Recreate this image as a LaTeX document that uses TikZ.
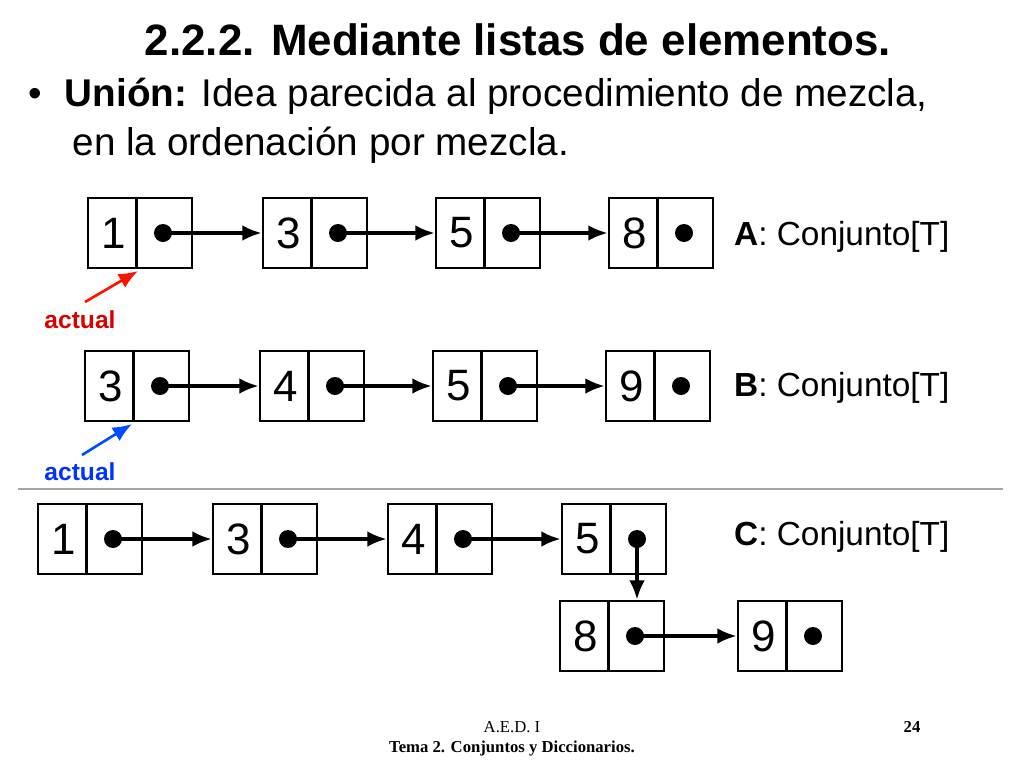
\documentclass[tikz,border=0pt]{standalone}
\usepackage{fontspec}
\setmainfont{Liberation Sans}
\newfontfamily\footfont{Liberation Serif}
\usetikzlibrary{arrows.meta}
\tikzset{
  cellbox/.style={draw,line width=1.6pt,minimum width=104*0.02cm,minimum height=70*0.02cm,inner sep=0pt},
  link/.style={line width=1.8pt,-{Latex[length=11pt,width=9pt]}},
  lbl/.style={font=\fontsize{19}{22}\selectfont,anchor=west}
}
% cell: name, x, y, number
\newcommand\cell[4]{%
  \node[cellbox] (#1) at (#2,#3) {};
  \draw[line width=1.6pt] ([xshift=-2pt]#1.north) -- ([xshift=-2pt]#1.south);
  \node[font=\fontsize{25}{28}\selectfont] (#1n) at ([xshift=-26*0.02cm]#1.center) {#4};
  \fill ([xshift=23*0.02cm]#1.center) coordinate (#1d) circle (9*0.02cm);
}
\begin{document}
\begin{tikzpicture}[x=0.02cm,y=-0.02cm]
  \useasboundingbox (0,0) rectangle (1024,768);
  \node[font=\bfseries\fontsize{25}{28}\selectfont] (title) at (518,40) {2.2.2. Mediante listas de elementos.};
  \node[font=\fontsize{22}{28}\selectfont,anchor=north west,align=left] (bullet) at (22,72)
    {\textbullet\hspace{0.6em}\textbf{Unión:} Idea parecida al procedimiento de mezcla,\\
     \hspace{1.15em}en la ordenación por mezcla.};

  % list A
  \foreach \n/\x/\v in {1/140/1,2/315/3,3/488/5,4/661/8}
    {\cell{a\n}{\x}{233}{\v}}
  \foreach \i/\j in {1/2,2/3,3/4} \draw[link] (a\i d) -- (a\j.west);
  \node[lbl] (la) at (728,237) {\textbf{A}: Conjunto[T]};

  % list B
  \foreach \n/\x/\v in {1/137/3,2/312/4,3/485/5,4/658/9}
    {\cell{b\n}{\x}{386}{\v}}
  \foreach \i/\j in {1/2,2/3,3/4} \draw[link] (b\i d) -- (b\j.west);
  \node[lbl] (lb) at (728,388) {\textbf{B}: Conjunto[T]};

  % pointers
  \node[font=\bfseries\fontsize{14}{16}\selectfont,text=red!85!black] (actA) at (80,320) {actual};
  \draw[link,red!85!orange,line width=1.5pt] (85,302) -- (138,271);
  \node[font=\bfseries\fontsize{14}{16}\selectfont,text=blue!80!cyan] (actB) at (80,472) {actual};
  \draw[link,blue!70!cyan,line width=1.5pt] (82,455) -- (132,424);

  \draw[gray!70,line width=1pt] (18,489) -- (1003,489);

  % list C
  \foreach \n/\x/\v in {1/90/1,2/265/3,3/440/4,4/614/5}
    {\cell{c\n}{\x}{539}{\v}}
  \cell{c5}{612}{636}{8}
  \cell{c6}{790}{636}{9}
  \foreach \i/\j in {1/2,2/3,3/4} \draw[link] (c\i d) -- (c\j.west);
  \draw[link] (c4d) -- (c4d |- c5.north);
  \draw[link] (c5d) -- (c6.west);
  \node[lbl] (lc) at (728,537) {\textbf{C}: Conjunto[T]};

  % footer
  \node[font=\footfont\fontsize{9.5}{11}\selectfont] (f1) at (512,727) {A.E.D. I};
  \node[font=\footfont\bfseries\fontsize{9.5}{11}\selectfont] (f2) at (512,748) {Tema 2. Conjuntos y Diccionarios.};
  \node[font=\footfont\bfseries\fontsize{9.5}{11}\selectfont] (f3) at (912,727) {24};
\end{tikzpicture}
\end{document}
